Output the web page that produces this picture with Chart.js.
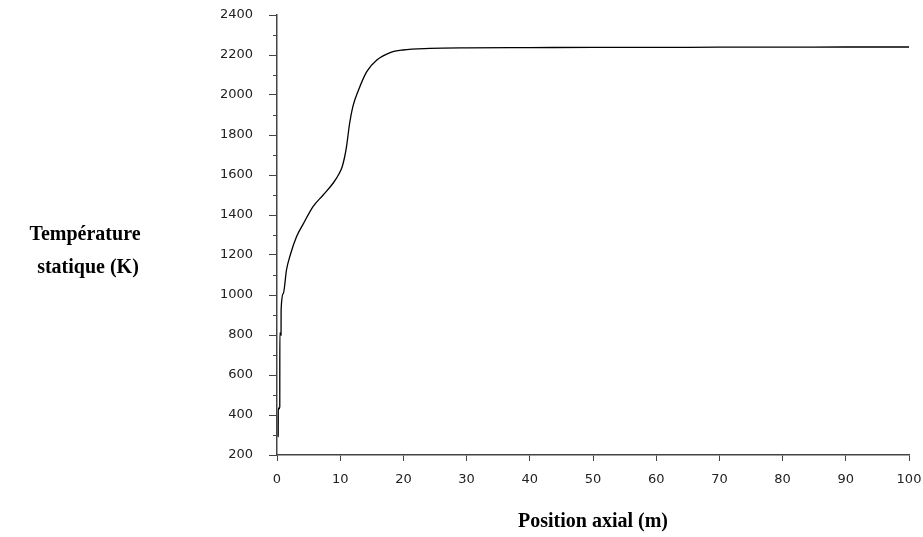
<!DOCTYPE html>
<html>
<head>
<meta charset="utf-8">
<script src="https://cdn.jsdelivr.net/npm/chart.js@4"></script>
<style>
  body { margin: 0; background: #fff; }
  #wrap { position: relative; width: 923px; height: 537px; }
</style>
</head>
<body>
<div id="wrap"><canvas id="myChart"></canvas></div>
<script>
// axial position (m) and static temperature (K)
const positions = [0.15, 0.19, 0.2, 0.3, 0.44, 0.45, 0.64, 0.65, 1.0, 1.5, 2.1, 3.1, 4.2, 5.7, 7.3, 8.9, 9.8, 10.3, 10.7, 11.0, 11.5, 12.0, 12.9, 14.2, 15.8, 17.9, 19.9, 24.2, 30, 40, 50, 60, 70, 80, 90, 100];
const temperatures = [290, 300, 435, 430, 440, 810, 800, 925, 1008, 1125, 1200, 1292, 1358, 1442, 1500, 1560, 1605, 1640, 1690, 1742, 1860, 1942, 2025, 2117, 2175, 2212, 2225, 2233, 2236, 2237, 2238, 2238, 2239, 2239, 2240, 2240];
const yTicks = [200, 400, 600, 800, 1000, 1200, 1400, 1600, 1800, 2000, 2200, 2400];
const xTicks = [0, 10, 20, 30, 40, 50, 60, 70, 80, 90, 100];

const points = positions.map((p, i) => ({ x: p, y: temperatures[i] }));

const axisColor = '#444';

const decorPlugin = {
  id: 'decor',
  afterDraw(chart) {
    const c = chart.ctx;
    const ys = chart.scales.y;
    const area = chart.chartArea;
    // minor ticks every 100 K
    c.save();
    c.strokeStyle = axisColor;
    c.lineWidth = 1;
    for (let v = 300; v < 2400; v += 200) {
      const py = Math.round(ys.getPixelForValue(v)) + 0.5;
      c.beginPath();
      c.moveTo(area.left - 4, py);
      c.lineTo(area.left, py);
      c.stroke();
    }
    // axis titles
    c.fillStyle = '#000';
    c.font = 'bold 20px "Liberation Serif", "Times New Roman", serif';
    c.textAlign = 'center';
    c.textBaseline = 'middle';
    c.fillText('Température', 85, 235);
    c.fillText('statique (K)', 88, 268);
    c.fillText('Position axial (m)', 593, 522);
    c.restore();
  }
};

new Chart(document.getElementById('myChart'), {
  type: 'line',
  data: {
    datasets: [
      {
        data: points,
        borderColor: '#000',
        borderWidth: 1.3,
        pointRadius: 0,
        cubicInterpolationMode: 'monotone',
        fill: false,
      },
    ],
  },
  options: {
    responsive: true,
    maintainAspectRatio: false,
    animation: false,
    layout: { padding: { top: 15, right: 14, left: 0, bottom: 0 } },
    scales: {
      x: {
        type: 'linear',
        min: 0,
        max: 100,
        afterBuildTicks: (s) => { s.ticks = xTicks.map(v => ({ value: v })); },
        afterFit: (s) => { s.height = 82; s.paddingLeft = 0; s.paddingRight = 0; },
        grid: { drawOnChartArea: false, tickLength: 6, color: axisColor },
        border: { color: axisColor, width: 1.5 },
        ticks: {
          color: '#222',
          padding: 11,
          maxRotation: 0,
          callback: (v) => String(v),
          font: { size: 13, family: '"DejaVu Sans", sans-serif' },
        },
      },
      y: {
        min: 200,
        max: 2400,
        afterBuildTicks: (s) => { s.ticks = yTicks.map(v => ({ value: v })); },
        afterFit: (s) => { s.width = 277; s.paddingTop = 0; s.paddingBottom = 0; },
        grid: { drawOnChartArea: false, tickLength: 8, color: axisColor },
        border: { color: axisColor, width: 1.5 },
        ticks: {
          color: '#222',
          padding: 16,
          callback: (v) => String(v),
          font: { size: 13, family: '"DejaVu Sans", sans-serif' },
        },
      },
    },
    plugins: {
      legend: { display: false },
      tooltip: { enabled: false },
    },
  },
  plugins: [decorPlugin],
});
</script>
</body>
</html>
